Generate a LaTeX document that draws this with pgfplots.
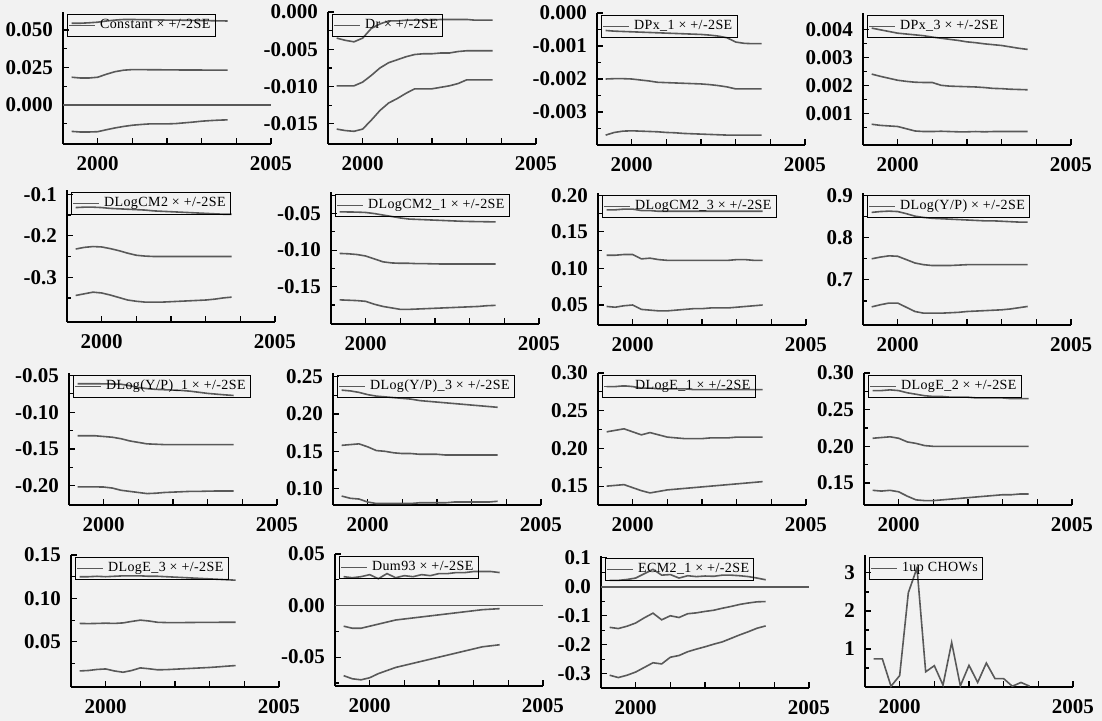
\documentclass[border=0pt]{standalone}
\usepackage{fontspec}
\setmainfont{Liberation Serif}
\newfontfamily\legfont[LetterSpace=3]{Liberation Serif}
\usepackage{pgfplots}
\usepackage{pgfplotstable}
\pgfplotsset{compat=1.18}

% recursive coefficient estimates, quarterly 1999Q2--2003Q4
\pgfplotstableread{
x lo m hi
1999.25 -0.0176 0.0185 0.0545
1999.50 -0.0180 0.0180 0.0545
1999.75 -0.0180 0.0180 0.0548
2000.00 -0.0178 0.0185 0.0552
2000.25 -0.0165 0.0205 0.0560
2000.50 -0.0153 0.0222 0.0566
2000.75 -0.0143 0.0232 0.0570
2001.00 -0.0135 0.0236 0.0570
2001.25 -0.0130 0.0236 0.0569
2001.50 -0.0126 0.0235 0.0568
2001.75 -0.0126 0.0235 0.0567
2002.00 -0.0126 0.0234 0.0566
2002.25 -0.0124 0.0234 0.0566
2002.50 -0.0119 0.0233 0.0565
2002.75 -0.0114 0.0233 0.0564
2003.00 -0.0108 0.0233 0.0563
2003.25 -0.0104 0.0232 0.0562
2003.50 -0.0101 0.0232 0.0561
2003.75 -0.0099 0.0232 0.0560
}\tA
\pgfplotstableread{
x lo m hi
1999.25 -0.0157 -0.0099 -0.0035
1999.50 -0.0159 -0.0099 -0.0038
1999.75 -0.0160 -0.0099 -0.0040
2000.00 -0.0157 -0.0094 -0.0035
2000.25 -0.0145 -0.0085 -0.0022
2000.50 -0.0132 -0.0075 -0.0016
2000.75 -0.0122 -0.0068 -0.0012
2001.00 -0.0116 -0.0064 -0.0012
2001.25 -0.0109 -0.0060 -0.0011
2001.50 -0.0103 -0.0057 -0.0011
2001.75 -0.0103 -0.0056 -0.0011
2002.00 -0.0103 -0.0056 -0.0011
2002.25 -0.0101 -0.0055 -0.0010
2002.50 -0.0099 -0.0055 -0.0010
2002.75 -0.0096 -0.0053 -0.0010
2003.00 -0.0091 -0.0052 -0.0010
2003.25 -0.0091 -0.0052 -0.0011
2003.50 -0.0091 -0.0052 -0.0011
2003.75 -0.0091 -0.0052 -0.0011
}\tB
\pgfplotstableread{
x lo m hi
1999.25 -0.00370 -0.00200 -0.00053
1999.50 -0.00362 -0.00199 -0.00055
1999.75 -0.00358 -0.00199 -0.00056
2000.00 -0.00357 -0.00200 -0.00057
2000.25 -0.00358 -0.00203 -0.00058
2000.50 -0.00359 -0.00206 -0.00059
2000.75 -0.00360 -0.00210 -0.00060
2001.00 -0.00362 -0.00211 -0.00061
2001.25 -0.00363 -0.00212 -0.00062
2001.50 -0.00365 -0.00213 -0.00063
2001.75 -0.00366 -0.00214 -0.00064
2002.00 -0.00367 -0.00215 -0.00065
2002.25 -0.00368 -0.00217 -0.00067
2002.50 -0.00369 -0.00220 -0.00070
2002.75 -0.00370 -0.00224 -0.00075
2003.00 -0.00370 -0.00230 -0.00088
2003.25 -0.00370 -0.00230 -0.00092
2003.50 -0.00370 -0.00230 -0.00093
2003.75 -0.00370 -0.00230 -0.00093
}\tC
\pgfplotstableread{
x lo m hi
1999.25 0.00061 0.00240 0.00404
1999.50 0.00057 0.00232 0.00398
1999.75 0.00055 0.00225 0.00392
2000.00 0.00053 0.00218 0.00386
2000.25 0.00045 0.00214 0.00383
2000.50 0.00037 0.00211 0.00380
2000.75 0.00035 0.00210 0.00377
2001.00 0.00035 0.00210 0.00372
2001.25 0.00036 0.00200 0.00368
2001.50 0.00035 0.00197 0.00364
2001.75 0.00034 0.00196 0.00360
2002.00 0.00034 0.00195 0.00355
2002.25 0.00035 0.00194 0.00352
2002.50 0.00034 0.00192 0.00348
2002.75 0.00035 0.00189 0.00345
2003.00 0.00035 0.00188 0.00342
2003.25 0.00035 0.00186 0.00337
2003.50 0.00035 0.00185 0.00332
2003.75 0.00035 0.00184 0.00328
}\tD
\pgfplotstableread{
x lo m hi
1999.25 -0.344 -0.232 -0.132
1999.50 -0.340 -0.228 -0.131
1999.75 -0.336 -0.226 -0.131
2000.00 -0.338 -0.227 -0.132
2000.25 -0.343 -0.231 -0.134
2000.50 -0.349 -0.236 -0.135
2000.75 -0.355 -0.242 -0.136
2001.00 -0.358 -0.247 -0.137
2001.25 -0.360 -0.249 -0.138
2001.50 -0.360 -0.250 -0.140
2001.75 -0.360 -0.250 -0.141
2002.00 -0.359 -0.250 -0.142
2002.25 -0.358 -0.250 -0.143
2002.50 -0.357 -0.250 -0.144
2002.75 -0.356 -0.250 -0.145
2003.00 -0.355 -0.250 -0.146
2003.25 -0.353 -0.250 -0.147
2003.50 -0.350 -0.250 -0.148
2003.75 -0.348 -0.250 -0.148
}\tE
\pgfplotstableread{
x lo m hi
1999.25 -0.1680 -0.1045 -0.0477
1999.50 -0.1685 -0.1050 -0.0478
1999.75 -0.1690 -0.1060 -0.0480
2000.00 -0.1700 -0.1080 -0.0485
2000.25 -0.1740 -0.1120 -0.0500
2000.50 -0.1770 -0.1160 -0.0520
2000.75 -0.1790 -0.1175 -0.0540
2001.00 -0.1810 -0.1180 -0.0560
2001.25 -0.1810 -0.1180 -0.0575
2001.50 -0.1805 -0.1185 -0.0580
2001.75 -0.1800 -0.1185 -0.0585
2002.00 -0.1795 -0.1188 -0.0590
2002.25 -0.1790 -0.1190 -0.0595
2002.50 -0.1785 -0.1190 -0.0600
2002.75 -0.1780 -0.1190 -0.0605
2003.00 -0.1775 -0.1190 -0.0608
2003.25 -0.1770 -0.1190 -0.0610
2003.50 -0.1760 -0.1190 -0.0612
2003.75 -0.1755 -0.1190 -0.0614
}\tF
\pgfplotstableread{
x lo m hi
1999.25 0.048 0.118 0.180
1999.50 0.047 0.118 0.180
1999.75 0.049 0.119 0.181
2000.00 0.050 0.119 0.181
2000.25 0.044 0.113 0.179
2000.50 0.043 0.114 0.179
2000.75 0.042 0.112 0.178
2001.00 0.042 0.111 0.178
2001.25 0.043 0.111 0.178
2001.50 0.044 0.111 0.178
2001.75 0.045 0.111 0.178
2002.00 0.045 0.111 0.178
2002.25 0.046 0.111 0.178
2002.50 0.046 0.111 0.178
2002.75 0.046 0.111 0.178
2003.00 0.047 0.112 0.178
2003.25 0.048 0.112 0.178
2003.50 0.049 0.111 0.178
2003.75 0.050 0.111 0.178
}\tG
\pgfplotstableread{
x lo m hi
1999.25 0.636 0.750 0.860
1999.50 0.641 0.754 0.862
1999.75 0.645 0.757 0.863
2000.00 0.645 0.756 0.862
2000.25 0.635 0.748 0.857
2000.50 0.625 0.740 0.851
2000.75 0.621 0.736 0.848
2001.00 0.621 0.734 0.846
2001.25 0.621 0.734 0.845
2001.50 0.622 0.734 0.844
2001.75 0.623 0.735 0.843
2002.00 0.625 0.736 0.842
2002.25 0.626 0.736 0.841
2002.50 0.627 0.736 0.840
2002.75 0.628 0.736 0.840
2003.00 0.629 0.736 0.839
2003.25 0.631 0.736 0.838
2003.50 0.634 0.736 0.837
2003.75 0.637 0.736 0.837
}\tH
\pgfplotstableread{
x lo m hi
1999.25 -0.2014 -0.132 -0.0614
1999.50 -0.2014 -0.132 -0.0614
1999.75 -0.2014 -0.132 -0.0614
2000.00 -0.2016 -0.133 -0.0615
2000.25 -0.2030 -0.134 -0.0617
2000.50 -0.2060 -0.136 -0.0620
2000.75 -0.2075 -0.139 -0.0640
2001.00 -0.2090 -0.141 -0.0665
2001.25 -0.2105 -0.143 -0.0680
2001.50 -0.2100 -0.1435 -0.0690
2001.75 -0.2090 -0.144 -0.0695
2002.00 -0.2085 -0.144 -0.0700
2002.25 -0.2080 -0.144 -0.0705
2002.50 -0.2075 -0.144 -0.0715
2002.75 -0.2075 -0.144 -0.0730
2003.00 -0.2072 -0.144 -0.0745
2003.25 -0.2070 -0.144 -0.0755
2003.50 -0.2070 -0.144 -0.0765
2003.75 -0.2070 -0.144 -0.0773
}\tI
\pgfplotstableread{
x lo m hi
1999.25 0.090 0.158 0.232
1999.50 0.087 0.159 0.231
1999.75 0.086 0.160 0.229
2000.00 0.082 0.156 0.226
2000.25 0.080 0.151 0.224
2000.50 0.080 0.150 0.223
2000.75 0.080 0.148 0.222
2001.00 0.080 0.147 0.221
2001.25 0.080 0.147 0.220
2001.50 0.081 0.146 0.218
2001.75 0.081 0.146 0.217
2002.00 0.081 0.146 0.216
2002.25 0.081 0.145 0.215
2002.50 0.082 0.145 0.214
2002.75 0.082 0.145 0.213
2003.00 0.082 0.145 0.212
2003.25 0.082 0.145 0.211
2003.50 0.082 0.145 0.210
2003.75 0.083 0.145 0.209
}\tJ
\pgfplotstableread{
x lo m hi
1999.25 0.150 0.222 0.282
1999.50 0.151 0.224 0.282
1999.75 0.152 0.226 0.283
2000.00 0.148 0.222 0.282
2000.25 0.144 0.218 0.280
2000.50 0.141 0.221 0.280
2000.75 0.143 0.218 0.279
2001.00 0.145 0.215 0.279
2001.25 0.146 0.214 0.279
2001.50 0.147 0.213 0.279
2001.75 0.148 0.213 0.278
2002.00 0.149 0.213 0.278
2002.25 0.150 0.214 0.278
2002.50 0.151 0.214 0.278
2002.75 0.152 0.214 0.278
2003.00 0.153 0.215 0.278
2003.25 0.154 0.215 0.278
2003.50 0.155 0.215 0.278
2003.75 0.156 0.215 0.278
}\tK
\pgfplotstableread{
x lo m hi
1999.25 0.140 0.211 0.276
1999.50 0.139 0.212 0.276
1999.75 0.140 0.213 0.277
2000.00 0.138 0.211 0.276
2000.25 0.132 0.206 0.273
2000.50 0.127 0.204 0.271
2000.75 0.126 0.201 0.269
2001.00 0.126 0.200 0.268
2001.25 0.127 0.200 0.268
2001.50 0.128 0.200 0.267
2001.75 0.129 0.200 0.267
2002.00 0.130 0.200 0.267
2002.25 0.131 0.200 0.266
2002.50 0.132 0.200 0.266
2002.75 0.133 0.200 0.266
2003.00 0.134 0.200 0.266
2003.25 0.134 0.200 0.265
2003.50 0.135 0.200 0.265
2003.75 0.135 0.200 0.265
}\tL
\pgfplotstableread{
x lo m hi
1999.25 0.0165 0.0712 0.1250
1999.50 0.0170 0.0710 0.1250
1999.75 0.0182 0.0712 0.1255
2000.00 0.0188 0.0715 0.1250
2000.25 0.0165 0.0712 0.1255
2000.50 0.0150 0.0718 0.1260
2000.75 0.0170 0.0735 0.1260
2001.00 0.0200 0.0750 0.1260
2001.25 0.0190 0.0740 0.1255
2001.50 0.0178 0.0725 0.1255
2001.75 0.0180 0.0722 0.1250
2002.00 0.0185 0.0722 0.1245
2002.25 0.0190 0.0722 0.1240
2002.50 0.0195 0.0723 0.1235
2002.75 0.0200 0.0724 0.1230
2003.00 0.0205 0.0725 0.1225
2003.25 0.0212 0.0725 0.1220
2003.50 0.0220 0.0726 0.1215
2003.75 0.0227 0.0726 0.1210
}\tM
\pgfplotstableread{
x lo m hi
1999.25 -0.068 -0.0200 0.028
1999.50 -0.071 -0.0220 0.027
1999.75 -0.072 -0.0220 0.028
2000.00 -0.070 -0.0200 0.030
2000.25 -0.066 -0.0180 0.026
2000.50 -0.063 -0.0160 0.031
2000.75 -0.060 -0.0140 0.027
2001.00 -0.058 -0.0130 0.029
2001.25 -0.056 -0.0120 0.028
2001.50 -0.054 -0.0110 0.030
2001.75 -0.052 -0.0100 0.029
2002.00 -0.050 -0.0090 0.031
2002.25 -0.048 -0.0080 0.031
2002.50 -0.046 -0.0070 0.032
2002.75 -0.044 -0.0060 0.032
2003.00 -0.042 -0.0050 0.033
2003.25 -0.040 -0.0040 0.033
2003.50 -0.039 -0.0035 0.033
2003.75 -0.038 -0.0030 0.032
}\tN
\pgfplotstableread{
x lo m hi
1999.25 -0.305 -0.140 0.022
1999.50 -0.313 -0.144 0.022
1999.75 -0.305 -0.136 0.025
2000.00 -0.294 -0.125 0.030
2000.25 -0.278 -0.107 0.045
2000.50 -0.262 -0.091 0.060
2000.75 -0.266 -0.114 0.040
2001.00 -0.243 -0.100 0.042
2001.25 -0.237 -0.106 0.030
2001.50 -0.224 -0.093 0.038
2001.75 -0.215 -0.090 0.035
2002.00 -0.207 -0.085 0.037
2002.25 -0.198 -0.081 0.036
2002.50 -0.190 -0.074 0.040
2002.75 -0.178 -0.068 0.040
2003.00 -0.166 -0.061 0.038
2003.25 -0.155 -0.056 0.035
2003.50 -0.143 -0.052 0.030
2003.75 -0.135 -0.051 0.024
}\tO
% 1-step Chow tests
\pgfplotstableread{
x c
1999.25 0.74
1999.50 0.74
1999.75 0.02
2000.00 0.30
2000.25 2.48
2000.50 3.13
2000.75 0.40
2001.00 0.56
2001.25 0.05
2001.50 1.17
2001.75 0.03
2002.00 0.57
2002.25 0.12
2002.50 0.63
2002.75 0.22
2003.00 0.22
2003.25 0.02
2003.50 0.12
2003.75 0.02
}\tP

\pgfplotsset{
  ln/.style={black!65, line width=0.8pt, no markers},
  rec/.style={
    scale only axis, width=104pt, height=66pt, anchor=north west,
    xmin=1999, xmax=2005, xtick={2000,2001,2002,2003,2004,2005},
    xticklabels={2000,,,,,2005}, scaled y ticks=false,
    axis x line*=bottom, axis y line*=left,
    axis line style={-, line width=0.7pt},
    tick align=inside, major tick length=3pt, minor tick length=2.2pt,
    tick style={black, line width=0.6pt},
    tick label style={font=\bfseries\fontsize{10.5}{12}\selectfont},
    xticklabel style={yshift=-2.5pt},
    yticklabel style={xshift=-1.5pt},
    legend style={draw=black, fill=none, line width=0.5pt,
      font=\legfont\fontsize{7}{7.5}\selectfont, inner sep=0.4pt,
      at={(0.02,0.985)}, anchor=north west, legend cell align=left},
    legend image code/.code={\draw[#1] (0pt,0pt) -- (13pt,0pt);},
  }
}
\newcommand{\band}[2]{%
  \addplot[ln] table[y=m]{#1}; \addlegendentry{#2}
  \addplot[ln, forget plot] table[y=hi]{#1};
  \addplot[ln, forget plot] table[y=lo]{#1};}
\newcommand{\zero}{\addplot[ln, forget plot] coordinates {(1999,0) (2005,0)};}

\begin{document}
\begin{tikzpicture}
\path[use as bounding box, fill=black!5] (0,0) rectangle (551pt,-360.5pt);

% row 1
\begin{axis}[rec, at={(31.5pt,-6pt)}, ymin=-0.026, ymax=0.062,
  ytick={0,0.025,0.05}, yticklabels={0.000,0.025,0.050},
  minor ytick={-0.0125,0.0125,0.0375}]
\band{\tA}{Constant × +/-2SE}
\zero
\end{axis}
\begin{axis}[rec, at={(164pt,-6pt)}, ymin=-0.0177, ymax=0,
  ytick={-0.015,-0.01,-0.005,0}, yticklabels={-0.015,-0.010,-0.005,0.000},
  minor ytick={-0.0125,-0.0075,-0.0025}]
\band{\tB}{Dr × +/-2SE}
\end{axis}
\begin{axis}[rec, at={(298.5pt,-6.5pt)}, ymin=-0.004, ymax=0,
  ytick={-0.003,-0.002,-0.001,0}, yticklabels={-0.003,-0.002,-0.001,0.000},
  minor ytick={-0.0035,-0.0025,-0.0015,-0.0005}]
\band{\tC}{DPx\_1 × +/-2SE}
\end{axis}
\begin{axis}[rec, at={(431.5pt,-6.5pt)}, ymin=-0.00013, ymax=0.00458,
  ytick={0.001,0.002,0.003,0.004}, yticklabels={0.001,0.002,0.003,0.004},
  minor ytick={0.0005,0.0015,0.0025,0.0035}]
\band{\tD}{DPx\_3 × +/-2SE}
\end{axis}

% row 2
\begin{axis}[rec, at={(33.5pt,-95pt)}, ymin=-0.408, ymax=-0.0896,
  ytick={-0.3,-0.2,-0.1}, yticklabels={-0.3,-0.2,-0.1},
  minor ytick={-0.35,-0.25,-0.15}]
\band{\tE}{DLogCM2 × +/-2SE}
\end{axis}
\begin{axis}[rec, at={(165.5pt,-96pt)}, ymin=-0.201, ymax=-0.0205,
  ytick={-0.15,-0.1,-0.05}, yticklabels={-0.15,-0.10,-0.05},
  minor ytick={-0.175,-0.125,-0.075,-0.025}]
\band{\tF}{DLogCM2\_1 × +/-2SE}
\end{axis}
\begin{axis}[rec, at={(299pt,-96.5pt)}, ymin=0.0227, ymax=0.203,
  ytick={0.05,0.1,0.15,0.2}, yticklabels={0.05,0.10,0.15,0.20},
  minor ytick={0.075,0.125,0.175}]
\band{\tG}{DLogCM2\_3 × +/-2SE}
\end{axis}
\begin{axis}[rec, at={(431.5pt,-96.5pt)}, ymin=0.593, ymax=0.906,
  ytick={0.7,0.8,0.9}, yticklabels={0.7,0.8,0.9},
  minor ytick={0.65,0.75,0.85}]
\band{\tH}{DLog(Y/P) × +/-2SE}
\end{axis}

% row 3
\begin{axis}[rec, at={(34.5pt,-186.5pt)}, ymin=-0.226, ymax=-0.0468,
  ytick={-0.2,-0.15,-0.1,-0.05}, yticklabels={-0.20,-0.15,-0.10,-0.05},
  minor ytick={-0.225,-0.175,-0.125,-0.075}]
\band{\tI}{DLog(Y/P)\_1 × +/-2SE}
\end{axis}
\begin{axis}[rec, at={(166.5pt,-186.5pt)}, ymin=0.078, ymax=0.255,
  ytick={0.1,0.15,0.2,0.25}, yticklabels={0.10,0.15,0.20,0.25},
  minor ytick={0.125,0.175,0.225}]
\band{\tJ}{DLog(Y/P)\_3 × +/-2SE}
\end{axis}
\begin{axis}[rec, at={(299pt,-186.5pt)}, ymin=0.125, ymax=0.30,
  ytick={0.15,0.2,0.25,0.3}, yticklabels={0.15,0.20,0.25,0.30},
  minor ytick={0.175,0.225,0.275}]
\band{\tK}{DLogE\_1 × +/-2SE}
\end{axis}
\begin{axis}[rec, at={(432pt,-186.5pt)}, ymin=0.12, ymax=0.30,
  ytick={0.15,0.2,0.25,0.3}, yticklabels={0.15,0.20,0.25,0.30},
  minor ytick={0.175,0.225,0.275}]
\band{\tL}{DLogE\_2 × +/-2SE}
\end{axis}

% row 4
\begin{axis}[rec, at={(35.5pt,-277.5pt)}, ymin=-0.002, ymax=0.15,
  ytick={0.05,0.1,0.15}, yticklabels={0.05,0.10,0.15},
  minor ytick={0.025,0.075,0.125}]
\band{\tM}{DLogE\_3 × +/-2SE}
\end{axis}
\begin{axis}[rec, at={(167.5pt,-277pt)}, ymin=-0.078, ymax=0.05,
  ytick={-0.05,0,0.05}, yticklabels={-0.05,0.00,0.05},
  minor ytick={-0.075,-0.025,0.025}]
\band{\tN}{Dum93 × +/-2SE}
\zero
\end{axis}
\begin{axis}[rec, at={(300.5pt,-278pt)}, ymin=-0.349, ymax=0.106,
  ytick={-0.3,-0.2,-0.1,0,0.1}, yticklabels={-0.3,-0.2,-0.1,0.0,0.1},
  minor ytick={-0.35,-0.25,-0.15,-0.05,0.05}]
\band{\tO}{ECM2\_1 × +/-2SE}
\zero
\end{axis}
\begin{axis}[rec, at={(432.5pt,-277.5pt)}, ymin=0, ymax=3.47,
  ytick={1,2,3}, yticklabels={1,2,3},
  minor ytick={0.5,1.5,2.5}]
\addplot[ln] table[y=c]{\tP}; \addlegendentry{1up CHOWs}
\end{axis}
\end{tikzpicture}
\end{document}
